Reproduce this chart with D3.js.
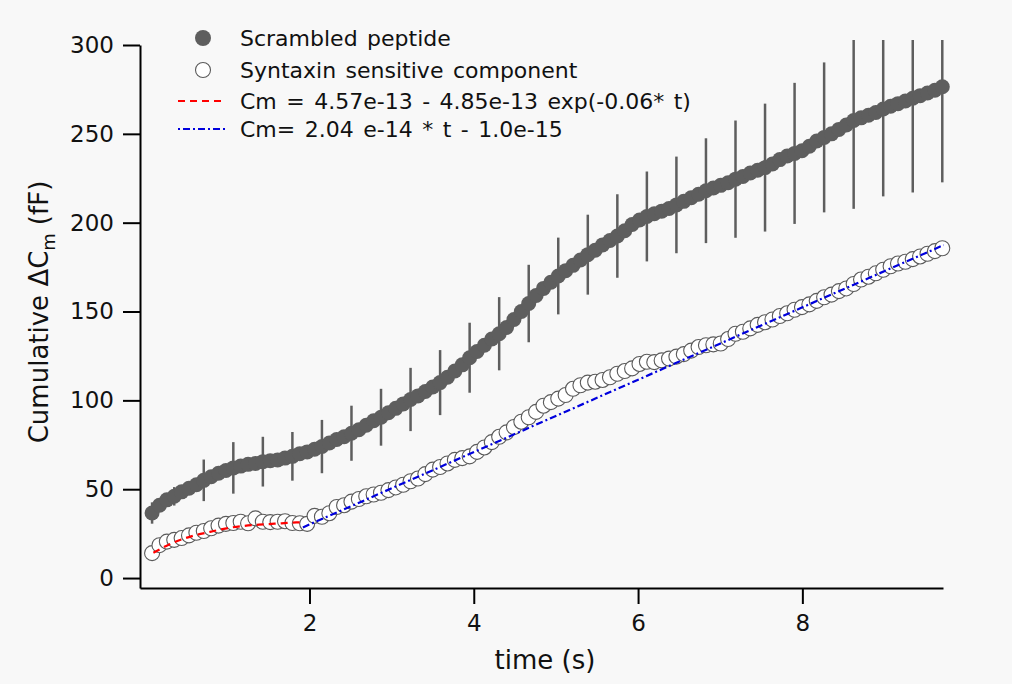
<!DOCTYPE html>
<html>
<head>
<meta charset="utf-8">
<script src="https://cdn.jsdelivr.net/npm/d3@7"></script>
<style>
  body { margin: 0; background: #f8f8f8; }
  svg { display: block; font-family: "DejaVu Sans", sans-serif; }
  .axis path, .axis line { stroke: #000; stroke-width: 2; }
  .axis text { font-family: "DejaVu Sans", sans-serif; font-size: 23px; fill: #111; }
</style>
</head>
<body>
<div id="graph"></div>
<script>
// sampling of the recording (s)
var t0 = 0.084;
var dt = 0.0899;

// scrambled peptide, cumulative dCm (fF)
var scrambled = [36.6, 41, 44, 46, 48.5, 50.5, 52.5, 55, 57, 59,
  60.5, 62, 63, 64, 64.5, 65.5, 66, 66.5, 67.5, 68.5,
  70, 71, 72.5, 74, 76, 78, 79.5, 81.5, 83.5, 86,
  88.5, 90.5, 93, 95.5, 98, 100.5, 102.5, 105, 107.5, 110,
  113, 116.5, 120, 124, 127.5, 131, 134.5, 137.5, 141, 145.5,
  150, 154.5, 159, 163, 166.5, 170, 173, 176, 179, 182,
  184.5, 187.5, 190, 192.5, 195.5, 199, 201.5, 203.5, 205, 206.5,
  208, 210, 212, 214, 216, 218, 219.5, 221, 222.5, 224.5,
  226, 228, 229.5, 231, 233, 235.5, 237.5, 239, 240.5, 243,
  246, 248, 250, 252.5, 255, 257.5, 259, 260.5, 262, 264,
  265.5, 267, 268.5, 270, 271.5, 273, 274.5, 276.5];

// points that carry an error bar, and the half length (fF)
var scrErrIdx = [0, 3, 7, 11, 15, 19, 23, 27, 31, 35, 39, 43, 47, 51,
  55, 59, 63, 67, 71, 75, 79, 83, 87, 91, 95, 99, 103, 107];
var scrErr = [6, 5.2, 11.7, 14.5, 14, 13.7, 15, 15.5, 16, 17.8, 18.3, 19.7, 20.6, 21.8,
  21.6, 22.5, 23.5, 25.3, 27.2, 29.5, 33, 36, 39.7, 42.2, 49.7, 49.2, 53, 53.8];

// syntaxin sensitive component (fF)
var syntaxin = [14, 18.5, 20.5, 21.5, 22.5, 24, 25.5, 26.5, 28, 29.5,
  30.5, 31, 31.7, 30.8, 33.6, 31.7, 31.5, 31.7, 32, 31,
  30.8, 30.5, 35, 34.5, 36.5, 40, 41, 43, 44.5, 46,
  47, 48, 49.5, 51, 52.5, 54.5, 56, 58.5, 61, 62.5,
  64.5, 66.5, 67.5, 68.5, 71, 73.5, 76.5, 79.5, 82, 85,
  88, 90.5, 93.5, 97, 99, 101, 103, 106.5, 108.5, 110,
  110.5, 111.5, 113, 115, 116.5, 118, 120.5, 121.7, 121.5, 122.5,
  123.5, 124.6, 126, 128, 130, 131, 131.5, 132, 134.5, 137.5,
  138.6, 140.5, 142.5, 144, 145.5, 147.5, 149, 151, 152.5, 154,
  156, 158, 159.5, 161.5, 163, 165.5, 168, 169.6, 171.5, 173.5,
  175.5, 177, 178, 179.5, 181, 182.5, 184, 185.6];

// fitted curves as drawn
var redFitT = [0.10, 0.34, 0.57, 0.79, 0.99, 1.19, 1.44, 1.66, 1.84, 1.92];
var redFitV = [14.2, 19.9, 23.6, 26, 28, 29.3, 30.2, 30.8, 31.3, 31.4];
var blueFitT = [1.92, 9.72];
var blueFitV = [28.5, 187.4];

var yTicks = [0, 50, 100, 150, 200, 250, 300];
var xTicks = [2, 4, 6, 8];

var legendLabels = ["Scrambled peptide", "Syntaxin sensitive component",
  "Cm = 4.57e-13 - 4.85e-13 exp(-0.06* t)", "Cm= 2.04 e-14 * t - 1.0e-15"];

var W = 1012, H = 684;
var grey = "#5e5e5e";

var svg = d3.select("#graph").append("svg")
    .attr("width", W)
    .attr("height", H);

svg.append("rect").attr("width", W).attr("height", H).attr("fill", "#f8f8f8");

var x = d3.scaleLinear().domain([-0.063, 9.712]).range([140, 943]);
var y = d3.scaleLinear().domain([-5.6, 300]).range([588, 45]);

var times = d3.range(scrambled.length).map(function (i) { return t0 + i * dt; });

svg.append("clipPath").attr("id", "plotclip")
  .append("rect").attr("x", 140).attr("y", 40).attr("width", 820).attr("height", 548);

var plot = svg.append("g").attr("clip-path", "url(#plotclip)");

// open circles first, fits go on top of them
plot.append("g").selectAll("circle")
    .data(syntaxin)
    .join("circle")
    .attr("cx", function (d, i) { return x(times[i]); })
    .attr("cy", function (d) { return y(d); })
    .attr("r", 7.5)
    .attr("fill", "#ffffff")
    .attr("stroke", "#5a5a5a")
    .attr("stroke-width", 1.1);

var fitLine = d3.line().curve(d3.curveMonotoneX);

plot.append("path")
    .attr("d", fitLine(redFitT.map(function (t, i) { return [x(t), y(redFitV[i])]; })))
    .attr("fill", "none")
    .attr("stroke", "#ff0000")
    .attr("stroke-width", 2.2)
    .attr("stroke-dasharray", "7,5");

plot.append("path")
    .attr("d", fitLine(blueFitT.map(function (t, i) { return [x(t), y(blueFitV[i])]; })))
    .attr("fill", "none")
    .attr("stroke", "#0000dd")
    .attr("stroke-width", 2.2)
    .attr("stroke-dasharray", "7,3,2,3");

// error bars
plot.append("g").selectAll("line")
    .data(scrErrIdx)
    .join("line")
    .attr("x1", function (d) { return x(times[d]); })
    .attr("x2", function (d) { return x(times[d]); })
    .attr("y1", function (d, k) { return y(scrambled[d] + scrErr[k]); })
    .attr("y2", function (d, k) { return y(scrambled[d] - scrErr[k]); })
    .attr("stroke", grey)
    .attr("stroke-width", 2.5);

plot.append("g").selectAll("circle")
    .data(scrambled)
    .join("circle")
    .attr("cx", function (d, i) { return x(times[i]); })
    .attr("cy", function (d) { return y(d); })
    .attr("r", 7.5)
    .attr("fill", grey);

// axes
var yAxis = d3.axisLeft(y).tickValues(yTicks).tickSize(17).tickSizeOuter(0).tickPadding(9);
var xAxis = d3.axisBottom(x).tickValues(xTicks).tickSize(16).tickSizeOuter(0).tickPadding(11);

svg.append("g").attr("class", "axis").attr("transform", "translate(140,0)").call(yAxis);
svg.append("g").attr("class", "axis").attr("transform", "translate(0,588)").call(xAxis);

svg.append("text")
    .attr("x", 545).attr("y", 669)
    .attr("text-anchor", "middle")
    .attr("font-size", 26)
    .attr("fill", "#111")
    .text("time (s)");

var ylab = svg.append("text")
    .attr("transform", "translate(48,312) rotate(-90)")
    .attr("text-anchor", "middle")
    .attr("font-size", 26)
    .attr("xml:space", "preserve")
    .attr("fill", "#111");
ylab.append("tspan").text("Cumulative \u0394C");
ylab.append("tspan").attr("font-size", 18).attr("dy", 7).text("m");
ylab.append("tspan").attr("dy", -7).attr("dx", 8).text("(fF)");

// legend
var legY = [38, 70, 101, 129];
var leg = svg.append("g");

leg.append("circle").attr("cx", 203).attr("cy", legY[0]).attr("r", 8).attr("fill", grey);
leg.append("circle").attr("cx", 203).attr("cy", legY[1]).attr("r", 7.5)
    .attr("fill", "#fff").attr("stroke", "#5a5a5a").attr("stroke-width", 1.1);
leg.append("line").attr("x1", 178).attr("x2", 226).attr("y1", legY[2]).attr("y2", legY[2])
    .attr("stroke", "#ff0000").attr("stroke-width", 2.2).attr("stroke-dasharray", "7,5");
leg.append("line").attr("x1", 178).attr("x2", 226).attr("y1", legY[3]).attr("y2", legY[3])
    .attr("stroke", "#0000dd").attr("stroke-width", 2.2).attr("stroke-dasharray", "2,3,7,3");

leg.selectAll("text.lab")
    .data(legendLabels)
    .join("text")
    .attr("class", "lab")
    .attr("x", 240)
    .attr("y", function (d, i) { return legY[i]; })
    .attr("dy", "0.35em")
    .attr("font-size", 22)
    .attr("word-spacing", 2.5)
    .attr("fill", "#111")
    .text(function (d) { return d; });
</script>
</body>
</html>
